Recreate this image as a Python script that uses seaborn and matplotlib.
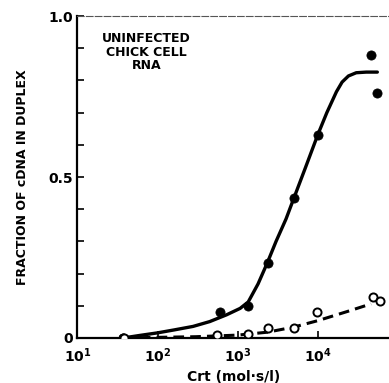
import matplotlib
matplotlib.use("Agg")
import matplotlib.pyplot as plt
import seaborn as sns

# Data
filled_crt = [37, 37, 600, 1350, 2350, 5000, 9900, 45600, 55000]
filled_frac = [0.0, 0.0, 0.082, 0.10, 0.234, 0.434, 0.63, 0.88, 0.76]
open_crt = [38, 550, 1340, 2350, 5000, 9700, 49000, 59600]
open_frac = [0.0, 0.01, 0.013, 0.031, 0.031, 0.082, 0.126, 0.116]

solid_crt = [37, 60, 100, 160, 277, 447, 724, 1070, 1350, 1790, 2340, 3000, 4000,
             5000, 7000, 9900, 12900, 17000, 20000, 24000, 30000, 40000, 55000]
solid_frac = [0.0, 0.008, 0.016, 0.025, 0.036, 0.051, 0.072, 0.092, 0.112, 0.168,
              0.234, 0.30, 0.37, 0.434, 0.53, 0.63, 0.70, 0.765, 0.795, 0.814,
              0.824, 0.826, 0.826]
dash_crt = [37, 100, 300, 1000, 2340, 5000, 10000, 23000, 46000]
dash_frac = [0.0, 0.002, 0.004, 0.009, 0.018, 0.034, 0.054, 0.082, 0.106]

sns.set_style("ticks")
plt.rcParams['font.family'] = ['DejaVu Sans']
plt.rcParams['text.color'] = 'black'
plt.rcParams['axes.labelcolor'] = 'black'
plt.rcParams['xtick.color'] = 'black'
plt.rcParams['ytick.color'] = 'black'
plt.rcParams['axes.edgecolor'] = 'black'

fig = plt.figure(figsize=(3.89, 3.83), dpi=100)
ax = fig.add_axes([0.199, 0.1175, 0.801, 0.8405])

sns.lineplot(x=solid_crt, y=solid_frac, ax=ax, color="black", lw=2.4, sort=False,
             estimator=None)
sns.lineplot(x=dash_crt, y=dash_frac, ax=ax, color="black", lw=2.2, sort=False,
             estimator=None)
ax.lines[-1].set_dashes([3.5, 2])
for ln in ax.lines:
    ln.set_solid_joinstyle("round")
sns.scatterplot(x=filled_crt, y=filled_frac, ax=ax, color="black", s=44,
                edgecolor="black", linewidth=0.5, zorder=5)
sns.scatterplot(x=open_crt, y=open_frac, ax=ax, facecolor="white", s=34,
                edgecolor="black", linewidth=1.4, zorder=5)

ax.set_xscale("log")
ax.set_xlim(10, 76900)
ax.set_ylim(0, 1.0)
ax.set_yticks([0, 0.1, 0.2, 0.3, 0.4, 0.5, 0.6, 0.7, 0.8, 0.9, 1.0])
ax.set_yticklabels(["0", "", "", "", "", "0.5", "", "", "", "", "1.0"])
ax.set_xticks([10, 100, 1000, 10000])
ax.set_xticklabels([r"$\mathbf{10^1}$", r"$\mathbf{10^2}$", r"$\mathbf{10^3}$", r"$\mathbf{10^4}$"])
ax.minorticks_off()
ax.tick_params(axis="y", direction="in", length=5, width=1.2, labelsize=10, pad=3)
ax.tick_params(axis="x", direction="in", length=5, width=1.2, labelsize=10, pad=6)
for lab in ax.get_yticklabels() + ax.get_xticklabels():
    lab.set_fontweight("bold")

ax.spines["right"].set_visible(False)
ax.spines["top"].set_linewidth(0.8)
ax.spines["top"].set_linestyle((0, (6, 2)))
ax.spines["top"].set_color("#555555")
ax.spines["left"].set_linewidth(1.6)
ax.spines["bottom"].set_linewidth(1.6)

ax.set_xlabel("Crt (mol·s/l)", fontsize=10, fontweight="bold", labelpad=4)
ax.set_ylabel("FRACTION OF cDNA IN DUPLEX", fontsize=9, fontweight="bold", labelpad=14)

ax.text(0.222, 0.95, "UNINFECTED\nCHICK CELL\nRNA", transform=ax.transAxes,
        ha="center", va="top", fontsize=9, fontweight="bold", linespacing=1.05)

fig.savefig("out.png", dpi=100)
